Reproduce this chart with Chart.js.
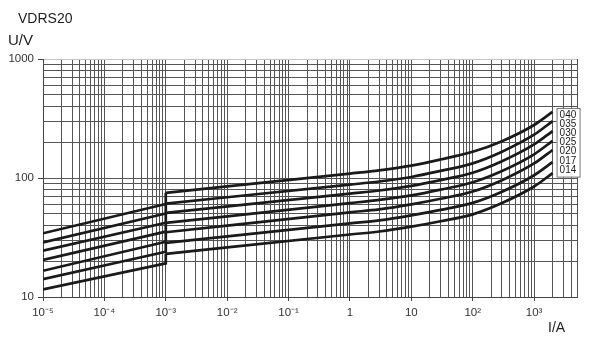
<!DOCTYPE html>
<html>
<head>
<meta charset="utf-8">
<script src="https://cdn.jsdelivr.net/npm/chart.js@4"></script>
<style>
  body { margin: 0; background: #fff; }
  #wrap { position: relative; width: 600px; height: 339px; }
  .lbl { position: absolute; font-family: "Liberation Sans", Arial, sans-serif; color: #222; font-size: 14px; line-height: 16px; }
</style>
</head>
<body>
<div id="wrap">
  <canvas id="chart" width="600" height="339"></canvas>
  <div class="lbl" style="left:18px; top:10px;">VDRS20</div>
  <div class="lbl" style="left:8px; top:32px; font-size:15px;">U/V</div>
  <div class="lbl" style="left:548px; top:319px;">I/A</div>
</div>
<script>
// Curve names (as written in the label box)
const curveNames = ["040", "035", "030", "025", "020", "017", "014"];

// Low current part: straight segment from 1e-5 A to 1e-3 A, then the step
const lowCurrent = [1e-5, 1e-3];
const lowStart = [34.3, 28.8, 24.5, 20.5, 16.6, 14.1, 11.6];
const lowEnd = [60.5, 50.3, 42.1, 35.4, 29.1, 24.0, 19.2];

// High current part, starting right after the step at 1e-3 A
const highCurrent = [1e-3, 1, 3, 10, 30, 100, 300, 1000, 2000];
const v040 = [75, 109, 116, 127, 143, 166, 204, 279, 359];
const v035 = [61, 88, 93.5, 102, 114.7, 132.8, 166.3, 231, 301];
const v030 = [51, 74, 78.5, 86, 96.1, 110.7, 138.3, 191.4, 248];
const v025 = [42, 61.5, 65.5, 71.5, 79.9, 92.1, 114.6, 158.2, 205];
const v020 = [35, 51.5, 54.5, 60, 66.9, 77, 95.9, 132.5, 172];
const v017 = [28.5, 41.5, 44, 48.5, 53.9, 61.8, 76.7, 105.5, 136];
const v014 = [23, 33.5, 35.5, 39, 43.3, 49.5, 61.6, 84.8, 110];
const highValues = [v040, v035, v030, v025, v020, v017, v014];

// Axis decades
const xDecades = [-5, -4, -3, -2, -1, 0, 1, 2, 3];
const xMax = 5000;
const yDecades = [1, 2];
const yMax = 1000;

function gridValues(decades, max) {
  const vals = [];
  decades.forEach(e => {
    for (let m = 1; m <= 9; m++) {
      const v = m * Math.pow(10, e);
      if (v <= max * 1.0001) vals.push(v);
    }
  });
  if (vals[vals.length - 1] < max) vals.push(max);
  return vals;
}

function isDecade(v) {
  const l = Math.log10(v);
  return Math.abs(l - Math.round(l)) < 1e-9;
}

const sup = { "-": "\u207B", "0": "\u2070", "1": "\u00B9", "2": "\u00B2", "3": "\u00B3",
  "4": "\u2074", "5": "\u2075", "6": "\u2076", "7": "\u2077", "8": "\u2078", "9": "\u2079" };

function xLabel(v) {
  if (!isDecade(v)) return "";
  const e = Math.round(Math.log10(v));
  if (e === 0) return "1";
  if (e === 1) return "10";
  return "10" + String(e).split("").map(c => sup[c]).join("");
}

// Build datasets: two per curve (low part with step, smooth high part)
const datasets = [];
curveNames.forEach((name, i) => {
  datasets.push({
    label: name + " low",
    data: [
      { x: lowCurrent[0], y: lowStart[i] },
      { x: lowCurrent[1], y: lowEnd[i] },
      { x: highCurrent[0], y: highValues[i][0] }
    ],
    tension: 0
  });
  datasets.push({
    label: name,
    data: highCurrent.map((x, k) => ({ x: x, y: highValues[i][k] })),
    cubicInterpolationMode: "monotone"
  });
});

// Label box at the right end of the curves
const labelBox = {
  id: "labelBox",
  afterDatasetsDraw(chart) {
    const ctx = chart.ctx;
    const xs = chart.scales.x, ys = chart.scales.y;
    const last = highCurrent.length - 1;
    const x0 = xs.getPixelForValue(highCurrent[last]) + 4;
    const yTop = ys.getPixelForValue(highValues[0][last]) + 3;
    const yBot = ys.getPixelForValue(highValues[highValues.length - 1][last]) - 3;
    const step = (yBot - yTop) / (curveNames.length - 1);
    ctx.save();
    ctx.fillStyle = "#fff";
    ctx.strokeStyle = "#777";
    ctx.lineWidth = 1;
    ctx.fillRect(x0, yTop - 6.5, 24, yBot - yTop + 13.5);
    ctx.strokeRect(x0 + 0.5, yTop - 6.5, 23, yBot - yTop + 13.5);
    ctx.fillStyle = "#222";
    ctx.font = "10px 'Liberation Sans', Arial, sans-serif";
    ctx.textBaseline = "middle";
    ctx.textAlign = "left";
    curveNames.forEach((n, i) => ctx.fillText(n, x0 + 3, yTop + i * step));
    ctx.restore();
  }
};

const xGrid = gridValues(xDecades, xMax);
const yGrid = gridValues(yDecades, yMax);

new Chart(document.getElementById("chart"), {
  type: "line",
  data: { datasets: datasets },
  options: {
    responsive: false,
    animation: false,
    layout: { padding: { left: 0, top: 59, right: 23, bottom: 0 } },
    plugins: { legend: { display: false }, tooltip: { enabled: false } },
    elements: {
      point: { radius: 0 },
      line: { borderColor: "#1a1a1a", borderWidth: 2.7, fill: false }
    },
    scales: {
      x: {
        type: "logarithmic",
        min: 1e-5,
        max: xMax,
        afterBuildTicks: s => { s.ticks = xGrid.map(v => ({ value: v })); },
        afterFit: s => { s.height = 42; },
        ticks: {
          autoSkip: false,
          maxRotation: 0,
          padding: 5,
          color: "#333",
          font: { family: "'Liberation Sans', Arial, sans-serif", size: 11.5 },
          callback: v => xLabel(v)
        },
        grid: {
          color: "#555",
          lineWidth: 1,
          tickLength: 4,
          tickColor: c => (c.tick && isDecade(c.tick.value) ? "#444" : "rgba(0,0,0,0)")
        },
        border: { color: "#444" }
      },
      y: {
        type: "logarithmic",
        min: 10,
        max: yMax,
        afterBuildTicks: s => { s.ticks = yGrid.map(v => ({ value: v })); },
        afterFit: s => { s.width = 43; },
        ticks: {
          autoSkip: false,
          padding: 4,
          color: "#333",
          font: { family: "'Liberation Sans', Arial, sans-serif", size: 11.5 },
          callback: v => (isDecade(v) ? String(Math.round(v)) : "")
        },
        grid: {
          color: c => (c.tick && c.tick.value >= yMax ? "#c4c4c4" : "#555"),
          lineWidth: 1,
          tickLength: 5,
          tickColor: c => (c.tick && isDecade(c.tick.value) ? "#444" : "rgba(0,0,0,0)")
        },
        border: { color: "#444" }
      }
    }
  },
  plugins: [labelBox]
});
</script>
</body>
</html>
